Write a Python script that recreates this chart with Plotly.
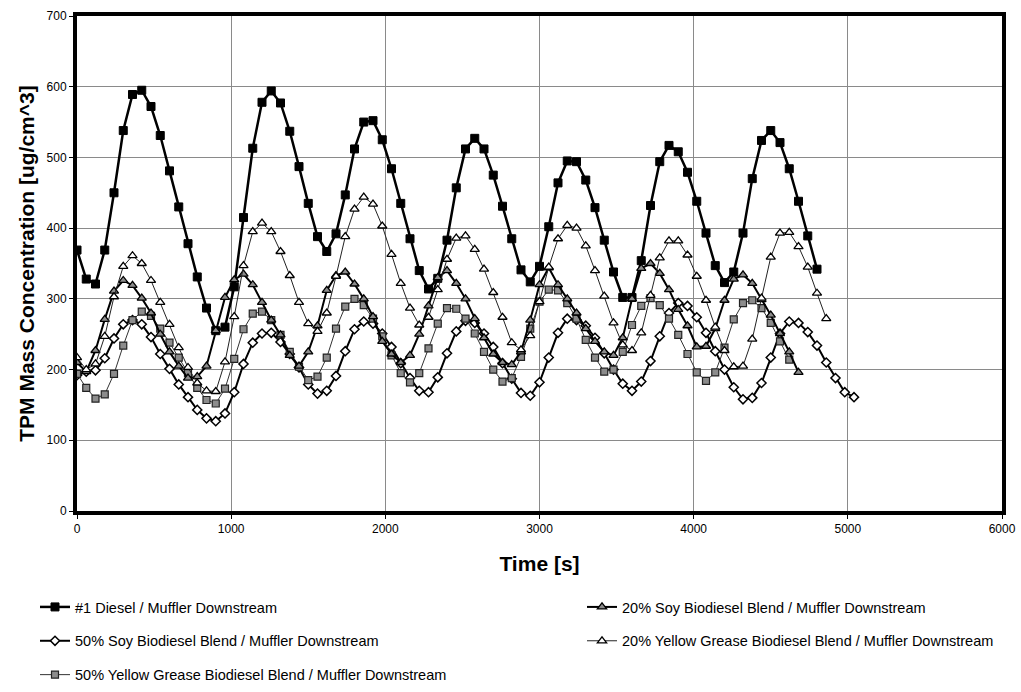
import plotly.graph_objects as go

step = 60
diesel = [369, 328, 321, 369, 450, 538, 589, 595, 572, 531, 481, 430, 378, 331, 287, 255, 260, 317, 415, 513,
          578, 594, 577, 537, 487, 435, 388, 367, 392, 447, 512, 550, 552, 525, 484, 435, 385, 340, 314, 329,
          383, 457, 512, 527, 512, 475, 431, 385, 341, 324, 346, 402, 464, 495, 494, 468, 429, 383, 338, 302,
          302, 354, 432, 494, 517, 508, 479, 438, 393, 347, 323, 338, 393, 470, 524, 538, 521, 484, 438, 389,
          342]
soy20 = [210, 197, 227, 271, 311, 326, 319, 301, 280, 250, 225, 205, 188, 190, 205, 255, 302, 327, 335, 320,
         295, 270, 249, 220, 205, 225, 262, 312, 333, 338, 321, 300, 275, 240, 222, 210, 220, 250, 290, 330,
         340, 322, 300, 272, 245, 222, 210, 207, 225, 270, 320, 344, 320, 300, 280, 258, 240, 225, 220, 245,
         300, 343, 350, 336, 313, 285, 262, 232, 233, 258, 298, 328, 334, 322, 299, 277, 251, 225, 196]
soy50 = [192, 197, 199, 216, 244, 264, 270, 264, 246, 222, 201, 179, 161, 143, 131, 127, 138, 168, 208, 238,
         251, 252, 239, 222, 203, 179, 166, 170, 191, 226, 257, 268, 265, 251, 232, 209, 188, 170, 168, 189,
         223, 254, 269, 266, 251, 232, 209, 187, 167, 163, 182, 217, 252, 272, 270, 262, 245, 223, 200, 180,
         170, 183, 212, 247, 280, 294, 290, 274, 252, 226, 200, 175, 158, 160, 181, 217, 251, 268, 266, 253,
         234, 210, 188, 168, 161]
yg20 = [217, 200, 208, 247, 303, 346, 361, 350, 326, 295, 264, 231, 203, 181, 170, 169, 211, 275, 347, 395,
        407, 395, 367, 333, 295, 265, 254, 280, 332, 388, 427, 444, 434, 403, 363, 322, 287, 263, 274, 313,
        356, 386, 389, 370, 342, 309, 274, 238, 228, 248, 296, 345, 385, 404, 400, 375, 340, 304, 266, 235,
        227, 252, 305, 358, 382, 382, 362, 332, 298, 260, 227, 204, 205, 243, 301, 359, 393, 394, 374, 345,
        308, 272]
yg50 = [194, 174, 159, 165, 194, 234, 270, 282, 276, 258, 238, 217, 195, 174, 157, 152, 173, 215, 257, 279,
        282, 270, 249, 225, 204, 185, 190, 217, 258, 289, 300, 291, 272, 247, 220, 195, 182, 195, 230, 265,
        287, 286, 272, 251, 225, 200, 183, 188, 218, 258, 296, 313, 312, 294, 272, 242, 217, 197, 200, 225,
        263, 290, 301, 291, 272, 249, 222, 196, 184, 196, 231, 271, 294, 298, 287, 266, 240, 214]

def times(vals):
    return [i * step for i in range(len(vals))]

names = ["#1 Diesel / Muffler Downstream",
         "20% Soy Biodiesel Blend / Muffler Downstream",
         "50% Soy Biodiesel Blend / Muffler Downstream",
         "20% Yellow Grease Biodiesel Blend / Muffler Downstream",
         "50% Yellow Grease Biodiesel Blend / Muffler Downstream"]

GRAY = "#8c8c8c"
fig = go.Figure()
fig.add_trace(go.Scatter(x=times(diesel), y=diesel, name=names[0], mode="lines+markers",
                         line=dict(color="black", width=2.5),
                         marker=dict(symbol="square", size=8, color="black", line=dict(color="black", width=1)),
                         legend="legend", legendgroup="a"))
fig.add_trace(go.Scatter(x=times(soy50), y=soy50, name=names[2], mode="lines+markers",
                         line=dict(color="black", width=2),
                         marker=dict(symbol="diamond", size=7, color="white", line=dict(color="black", width=1.5)),
                         legend="legend", legendgroup="b"))
fig.add_trace(go.Scatter(x=times(yg50), y=yg50, name=names[4], mode="lines+markers",
                         line=dict(color="#333333", width=1),
                         marker=dict(symbol="square", size=7, color=GRAY, line=dict(color="#222222", width=1.2)),
                         legend="legend", legendgroup="c"))
fig.add_trace(go.Scatter(x=times(soy20), y=soy20, name=names[1], mode="lines+markers",
                         line=dict(color="black", width=2),
                         marker=dict(symbol="triangle-up", size=8, color=GRAY, line=dict(color="black", width=1.3)),
                         legend="legend2", legendgroup="d"))
fig.add_trace(go.Scatter(x=times(yg20), y=yg20, name=names[3], mode="lines+markers",
                         line=dict(color="#222222", width=1),
                         marker=dict(symbol="triangle-up", size=8, color="white", line=dict(color="black", width=1.3)),
                         legend="legend2", legendgroup="e"))

axis_common = dict(showgrid=True, gridcolor="#8a8a8a", gridwidth=1,
                   showline=True, linecolor="black", linewidth=4, mirror=True,
                   ticks="outside", ticklen=4, tickcolor="black",
                   tickfont=dict(family="Liberation Sans, Arial", size=12, color="black"),
                   zeroline=False)

PL, PR, PT, PB = 77, 1002, 16, 511
W, H = 1021, 692
def px_x(p):
    return (p - PL) / (PR - PL)
def px_y(p):
    return (PB - p) / (PB - PT)

title_font = dict(family="Liberation Sans, Arial", size=21, color="black")
legend_font = dict(family="Liberation Sans, Arial", size=14.5, color="black")
fig.update_layout(
    width=W, height=H,
    margin=dict(l=PL, r=W - PR, t=PT, b=H - PB, autoexpand=False),
    plot_bgcolor="white", paper_bgcolor="white",
    xaxis=dict(range=[0, 6000], dtick=1000, **axis_common,
               title=dict(text="<b>Time [s]</b>", font=title_font, standoff=22)),
    yaxis=dict(range=[0, 700], dtick=100, **axis_common,
               title=dict(text="<b>TPM Mass Concentration [ug/cm^3]</b>", font=title_font, standoff=7)),
    legend=dict(x=px_x(35), y=px_y(591), xanchor="left", yanchor="top",
                orientation="v", traceorder="grouped", tracegroupgap=12, bgcolor="rgba(0,0,0,0)",
                font=legend_font),
    legend2=dict(x=px_x(582), y=px_y(591), xanchor="left", yanchor="top",
                 orientation="v", traceorder="grouped", tracegroupgap=12, bgcolor="rgba(0,0,0,0)",
                 font=legend_font),
)

fig.write_html("out.html")
